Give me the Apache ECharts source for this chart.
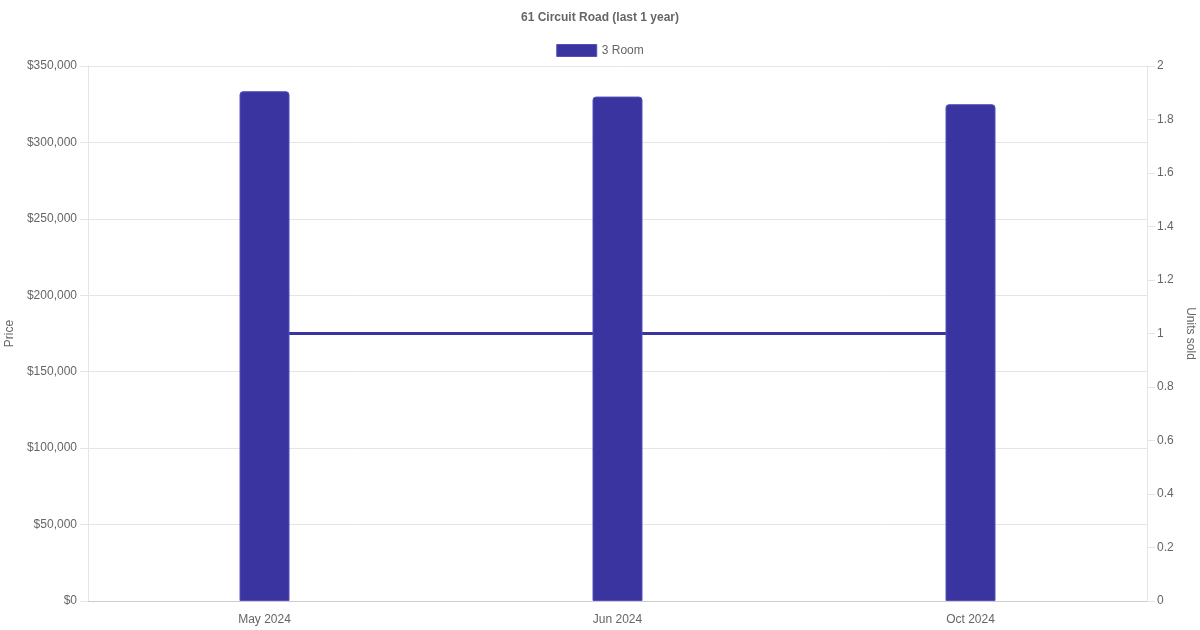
<!DOCTYPE html>
<html>
<head>
<meta charset="utf-8">
<script src="https://cdn.jsdelivr.net/npm/echarts@6/dist/echarts.min.js"></script>
<style>
  html, body { margin: 0; padding: 0; background: #fff; }
  #chart { width: 1200px; height: 630px; }
</style>
</head>
<body>
<div id="chart"></div>
<script>
// data
var months = ['May 2024', 'Jun 2024', 'Oct 2024'];
var prices = [333500, 330000, 325000];
var unitsSold = [1, 1, 1];
var priceTicks = { min: 0, max: 350000, step: 50000 };
var unitTicks = { min: 0, max: 2, step: 0.2 };

var barColor = '#3934a0';
var textColor = '#666';
var font = '"Liberation Sans", Arial, Helvetica, sans-serif';

var chart = echarts.init(document.getElementById('chart'));

var option = {
    animation: false,
    textStyle: { fontFamily: font },
    title: {
        text: '61 Circuit Road (last 1 year)',
        left: 'center',
        top: 7,
        textStyle: { fontSize: 12, fontWeight: 'bold', color: textColor, fontFamily: font }
    },
    legend: {
        data: ['3 Room'],
        top: 39,
        left: 'center',
        icon: 'rect',
        itemWidth: 40,
        itemHeight: 12,
        itemGap: 10,
        itemStyle: { borderColor: '#5550b8', borderWidth: 1 },
        textStyle: { fontSize: 12, color: textColor, fontFamily: font }
    },
    grid: { left: 88, right: 53, top: 66, bottom: 29, containLabel: false, outerBoundsMode: 'none' },
    xAxis: {
        type: 'category',
        data: months,
        axisLine: { lineStyle: { color: '#ccc' } },
        axisTick: { show: false },
        axisLabel: { color: textColor, fontSize: 12, margin: 13, fontFamily: font },
        splitLine: { show: false }
    },
    yAxis: [{
        type: 'value',
        min: priceTicks.min,
        max: priceTicks.max,
        interval: priceTicks.step,
        name: 'Price',
        nameLocation: 'middle',
        nameRotate: 90,
        nameGap: 66,
        nameTextStyle: { color: textColor, fontSize: 12, fontFamily: font },
        axisLine: { show: true, lineStyle: { color: '#e5e5e5' } },
        axisTick: { show: true, length: 8, lineStyle: { color: '#e5e5e5' } },
        axisLabel: {
            color: textColor, fontSize: 12, margin: 11, fontFamily: font,
            formatter: function (v) { return '$' + v.toLocaleString('en-US'); }
        },
        splitLine: { lineStyle: { color: '#e5e5e5' } }
    }, {
        type: 'value',
        position: 'right',
        min: unitTicks.min,
        max: unitTicks.max,
        interval: unitTicks.step,
        name: 'Units sold',
        nameLocation: 'middle',
        nameRotate: -90,
        nameGap: 34,
        nameTextStyle: { color: textColor, fontSize: 12, fontFamily: font },
        axisLine: { show: true, lineStyle: { color: '#e5e5e5' } },
        axisTick: { show: true, length: 8, lineStyle: { color: '#e5e5e5' } },
        axisLabel: {
            color: textColor, fontSize: 12, margin: 10, fontFamily: font,
            formatter: function (v) { return String(Math.round(v * 10) / 10); }
        },
        splitLine: { show: false }
    }],
    series: [{
        name: '3 Room',
        type: 'bar',
        yAxisIndex: 0,
        data: prices,
        barWidth: 50,
        z: 3,
        itemStyle: {
            color: barColor,
            borderColor: '#5550b8',
            borderWidth: 1,
            borderRadius: [3, 3, 0, 0]
        }
    }, {
        name: 'Units sold',
        type: 'line',
        yAxisIndex: 1,
        data: unitsSold,
        z: 2,
        showSymbol: false,
        symbol: 'none',
        lineStyle: { color: barColor, width: 3 },
        itemStyle: { color: barColor }
    }]
};

chart.setOption(option);
</script>
</body>
</html>
